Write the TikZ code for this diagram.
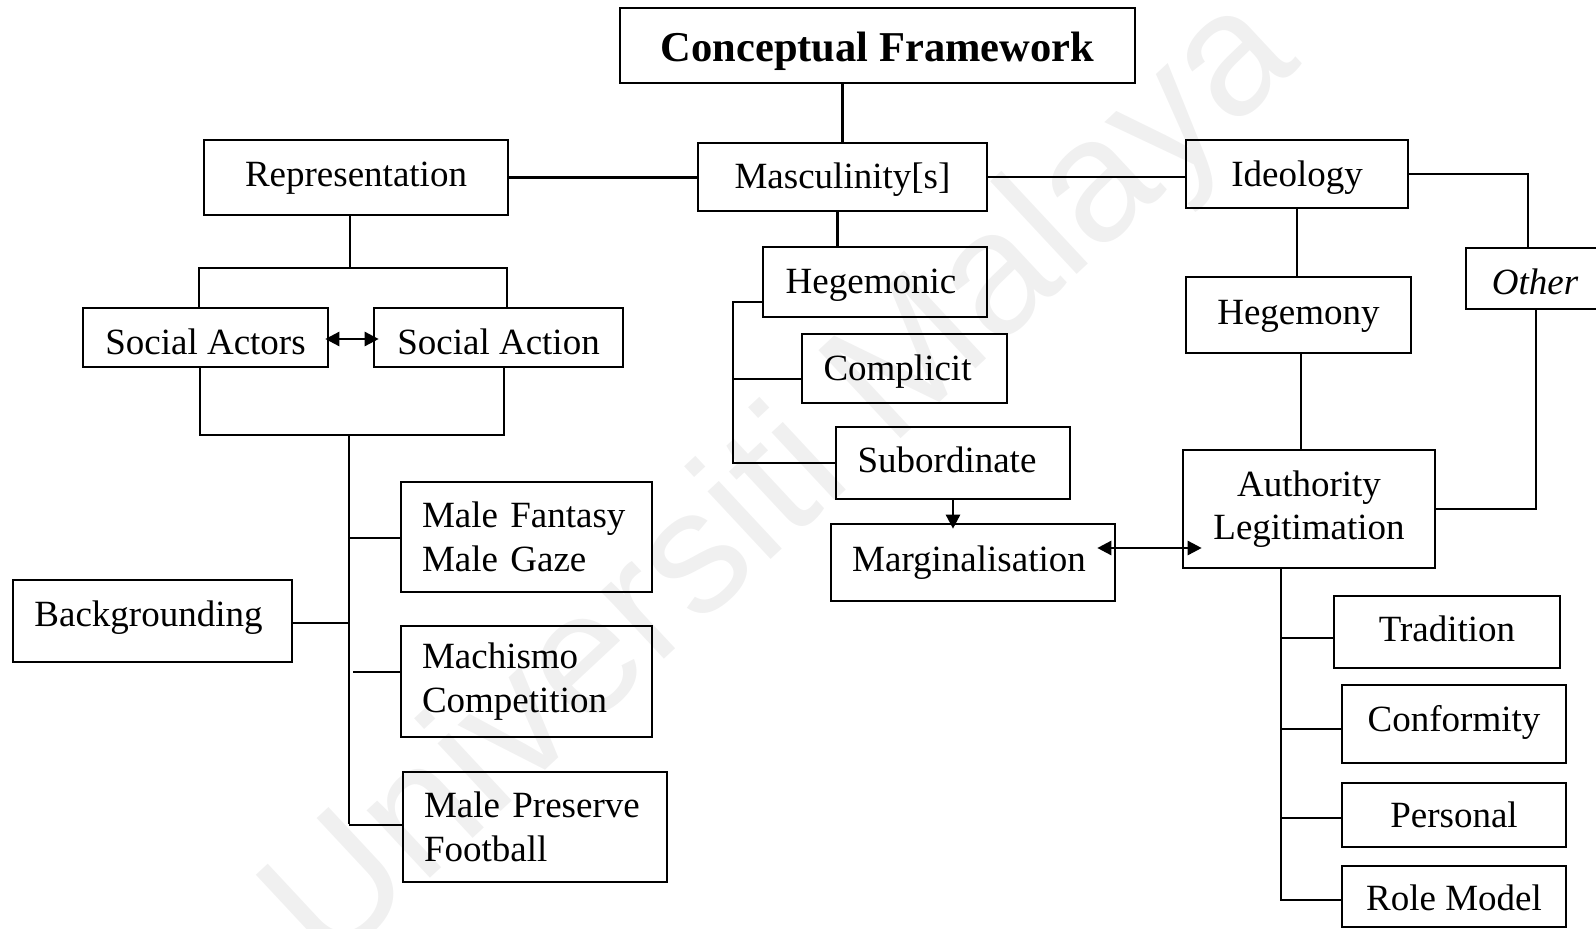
\documentclass[tikz,border=0pt]{standalone}
\usepackage{fontspec}
\setmainfont{Liberation Serif}
\newfontfamily\wmfont{Liberation Sans}
\usetikzlibrary{arrows.meta}
\begin{document}
\begin{tikzpicture}[x=1pt,y=1pt,
  base/.style={draw, line width=2.6pt, inner sep=0pt, font=\fontsize{37pt}{43.5pt}\selectfont},
  onebox/.style={base, text height=26pt, text depth=8pt},
  twobox/.style={base, align=left, inner xsep=21pt},
  link/.style={line width=2.5pt},
  tip/.style={line width=2.5pt, -{Triangle[length=14pt,width=14pt]}},
  biarrow/.style={line width=2.5pt, {Triangle[length=14pt,width=14pt]}-{Triangle[length=14pt,width=14pt]}},
  wmark/.style={font=\wmfont\fontsize{175pt}{175pt}\selectfont, text=black!6, inner sep=0pt}
]
\useasboundingbox (0,0) rectangle (1596,-929);

% faint watermark behind the chart
\node[wmark, rotate=43] (wm) at (785,-485) {Universiti Malaya};

% top level
\node[base, font=\fontsize{42.5pt}{50pt}\selectfont\bfseries, text height=41pt, text depth=9pt,
      minimum width=515pt, minimum height=75pt] (title) at (877.5,-45.5) {Conceptual Framework};
\node[onebox, minimum width=304pt, minimum height=75pt] (rep)  at (356,-177.5) {Representation};
\node[onebox, text height=30pt, minimum width=289pt, minimum height=68pt] (masc) at (842.5,-177) {Masculinity[s]};
\node[onebox, text height=32pt, minimum width=222pt, minimum height=68pt] (ideo) at (1297,-174) {Ideology};
\node[onebox, text height=40pt, minimum width=138pt, minimum height=61pt] (other) at (1535,-278.5) {\itshape Other};

% representation branch
\node[onebox, text height=42pt, minimum width=245pt, minimum height=59pt] (sa)  at (205.5,-337.5) {Social Actors};
\node[onebox, text height=42pt, minimum width=249pt, minimum height=59pt] (sac) at (498.5,-337.5) {Social Action};
\node[twobox, text width=209pt, minimum height=110pt] (mf) at (526.5,-537) {Male Fantasy\\Male Gaze};
\node[onebox, text height=18pt, minimum width=279pt, minimum height=82pt] (bg) at (152.5,-621) {\hspace*{-8pt}Backgrounding};
\node[twobox, text width=209pt, minimum height=111pt] (mc) at (526.5,-681.5) {Machismo\\Competition};
\node[twobox, text width=222pt, minimum height=110pt] (mp) at (535,-827) {Male Preserve\\Football};

% masculinities branch
\node[onebox, text height=30pt, minimum width=224pt, minimum height=70pt] (hegc) at (875,-282) {\hspace*{-8pt}Hegemonic};
\node[onebox, text height=32pt, minimum width=205pt, minimum height=69pt] (comp) at (904.5,-368.5) {\hspace*{-14pt}Complicit};
\node[onebox, minimum width=234pt, minimum height=72pt] (sub)  at (953,-463) {\hspace*{-12pt}Subordinate};
\node[onebox, minimum width=284pt, minimum height=77pt] (marg) at (973,-562.5) {\hspace*{-8pt}Marginalisation};

% ideology branch
\node[onebox, minimum width=225pt, minimum height=76pt] (hegy) at (1298.5,-315) {Hegemony};
\node[base, align=center, minimum width=252pt, minimum height=118pt] (auth) at (1309,-509) {Authority\\Legitimation};
\node[onebox, minimum width=226pt, minimum height=72pt] (trad) at (1447,-632) {Tradition};
\node[onebox, text height=22pt, minimum width=224pt, minimum height=78pt] (conf) at (1454,-724) {Conformity};
\node[onebox, text height=32pt, minimum width=224pt, minimum height=64pt] (pers) at (1454,-815) {Personal};
\node[onebox, text height=36pt, minimum width=224pt, minimum height=61pt] (role) at (1454,-896.5) {Role Model};

% spine
\draw[link] (masc.north) -- (masc.north |- title.south);
\draw[link] (rep.east) -- (rep.east -| masc.west);
\draw[link] (masc.east) -- (masc.east -| ideo.west);

% representation tree
\coordinate (rj) at (350,-268);
\coordinate (sj) at (349,-435);
\draw[link] ([xshift=-6pt]rep.south) -- (rj);
\draw[link] ([xshift=-6.5pt]sa.north) |- ([xshift=8.5pt]sac.north |- rj) -- ([xshift=8.5pt]sac.north);
\draw[biarrow, shorten <=-4pt, shorten >=-6pt] ([yshift=-1.5pt]sa.east) -- ([yshift=-1.5pt]sa.east -| sac.west);
\draw[link] ([xshift=-5.5pt]sa.south) |- ([xshift=5.5pt]sac.south |- sj) -- ([xshift=5.5pt]sac.south);
\draw[link] (sj) -- ([yshift=3pt]sj |- mp.west);
\draw[link] ([yshift=-1pt]mf.west) -- ([yshift=-1pt]sj |- mf.west);
\draw[link] ([yshift=-2pt]bg.east) -- ([yshift=-2pt]bg.east -| sj);
\draw[link] ([yshift=9.5pt]mc.west) -- ([xshift=4pt,yshift=9.5pt]sj |- mc.west);
\draw[link] ([yshift=2pt]mp.west) -- ([yshift=2pt]sj |- mp.west);

% masculinities tree
\coordinate (mbar) at (733,-302);
\draw[link] ([xshift=-5pt]masc.south) -- ([xshift=-5pt]masc.south |- hegc.north);
\draw[link] ([yshift=-20pt]hegc.west) -- (mbar) -- (mbar |- sub.west) -- (sub.west);
\draw[link] ([yshift=-10.5pt]comp.west) -- ([yshift=-10.5pt]mbar |- comp.west);
\draw[tip, shorten >=-6pt] (sub.south) -- (sub.south |- marg.north);
\draw[biarrow, shorten <=-19pt, shorten >=-20pt] ([yshift=14.5pt]marg.east) -- ([yshift=14.5pt]marg.east -| auth.west);

% ideology tree
\draw[link] (ideo.east) -| ([xshift=-7pt]other.north);
\draw[link] ([xshift=1pt]other.south) |- (auth.east);
\draw[link] (ideo.south) -- (ideo.south |- hegy.north);
\draw[link] ([xshift=2.5pt]hegy.south) -- ([xshift=2.5pt]hegy.south |- auth.north);
\coordinate (aj) at ([xshift=-28pt]auth.south);
\draw[link] (aj) |- ([yshift=-3.5pt]role.west);
\draw[link] ([yshift=-6pt]trad.west) -- ([yshift=-6pt]aj |- trad.west);
\draw[link] ([yshift=-5pt]conf.west) -- ([yshift=-5pt]aj |- conf.west);
\draw[link] ([yshift=-3pt]pers.west) -- ([yshift=-3pt]aj |- pers.west);
\end{tikzpicture}
\end{document}
